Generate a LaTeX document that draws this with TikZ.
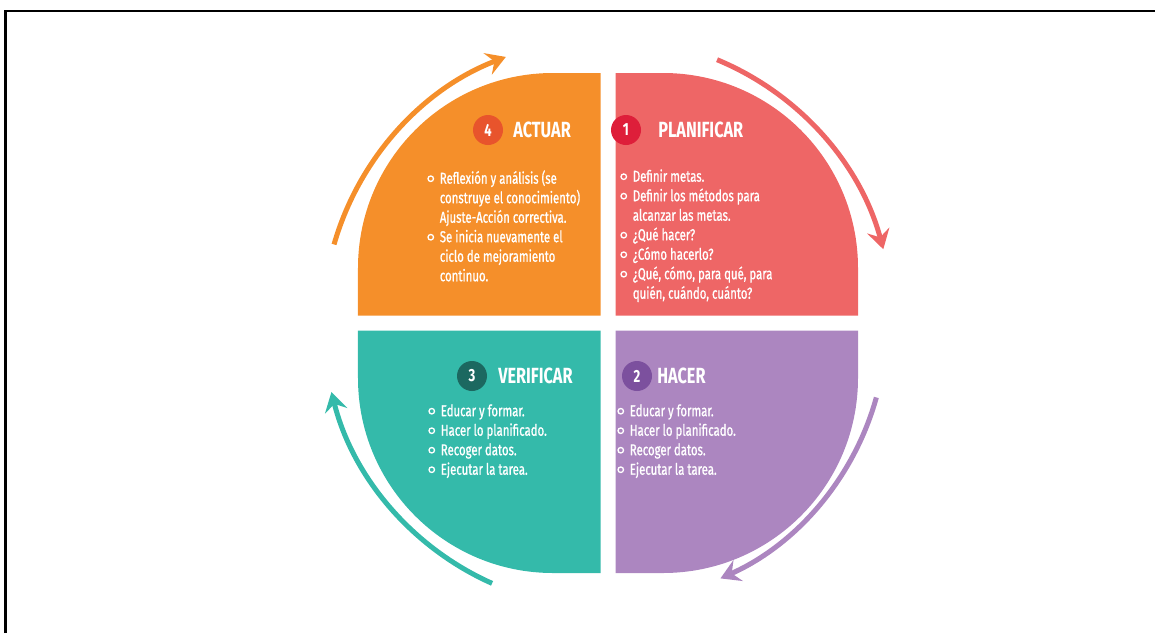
\documentclass[tikz,border=0pt]{standalone}
\usepackage{fontspec}
\setmainfont{Fira Sans}[FakeStretch=0.74]
\newfontfamily\bodyfont{Fira Sans}[FakeStretch=0.72, FakeBold=0.9]
\usetikzlibrary{arrows.meta}

% colours of the four steps
\definecolor{actuarcol}{RGB}{245,143,42}
\definecolor{planifcol}{RGB}{238,102,102}
\definecolor{hacercol}{RGB}{172,134,192}
\definecolor{verifcol}{RGB}{52,186,170}
\definecolor{actuardark}{RGB}{232,84,44}
\definecolor{planifdark}{RGB}{222,30,58}
\definecolor{hacerdark}{RGB}{124,80,158}
\definecolor{verifdark}{RGB}{28,104,96}

\newcommand{\bul}{\makebox[1.5ex][l]{\tikz[baseline=-0.6ex]\draw[white, line width=0.75pt] (0,0) circle (0.055cm);}}
\newcommand{\ind}{\makebox[1.5ex]{}}

\tikzset{
  badge/.style={circle, minimum size=0.6cm, inner sep=0pt, text=white, font=\bfseries\fontsize{10}{10}\selectfont},
  steptitle/.style={anchor=west, inner sep=0pt, text=white, font=\bfseries\fontsize{12.5}{14}\selectfont},
  steptext/.style={anchor=north west, inner sep=0pt, text=white, align=left, font=\bodyfont\fontsize{9}{11.1}\selectfont},
  cyclearrow/.style={line width=0.1cm, -{Stealth[length=11pt, width=13pt, inset=4pt]}}
}

\begin{document}
\begin{tikzpicture}
\useasboundingbox (-12.16,-6.2) rectangle (10.94,6.46);

% frame
\draw[line width=1.7pt] (-12.04,-6.2) -- (-12.04,6.24) -- (10.94,6.24);

% the four quarters
\fill[actuarcol] (-0.15,0.15) -- (-5,0.15) -- (-5,1.1) arc[start angle=180, end angle=90, radius=3.9] -- (-0.15,5) -- cycle;
\fill[planifcol] (0.15,0.15) -- (0.15,5) -- (1.1,5) arc[start angle=90, end angle=0, radius=3.9] -- (5,0.15) -- cycle;
\fill[hacercol] (0.15,-0.15) -- (5,-0.15) -- (5,-1.1) arc[start angle=0, end angle=-90, radius=3.9] -- (0.15,-5) -- cycle;
\fill[verifcol] (-0.15,-0.15) -- (-0.15,-5) -- (-1.1,-5) arc[start angle=270, end angle=180, radius=3.9] -- (-5,-0.15) -- cycle;

% arrows round the cycle
\draw[cyclearrow, actuarcol] (164:5.7) arc[start angle=164, end angle=111, radius=5.7];
\draw[cyclearrow, planifcol] (67.5:5.7) arc[start angle=67.5, end angle=15, radius=5.7];
\draw[cyclearrow, hacercol] (-15.5:5.57) arc[start angle=-15.5, end angle=-66, radius=5.6];
\draw[cyclearrow, verifcol] (246:5.7) arc[start angle=246, end angle=194, radius=5.7];

% 4 Actuar
\node[badge, fill=actuardark] (b4) at (-2.4,3.86) {4};
\node[steptitle] (actuar) at (-1.9,3.86) {ACTUAR};
\node[steptext] (actuartext) at (-3.62,3.06) {\bul Reflexión y análisis (se\\\ind construye el conocimiento)\\\ind Ajuste-Acción correctiva.\\\bul Se inicia nuevamente el\\\ind ciclo de mejoramiento\\\ind continuo.};

% 1 Planificar
\node[badge, fill=planifdark] (b1) at (0.36,3.86) {1};
\node[steptitle] (planificar) at (1.0,3.86) {PLANIFICAR};
\node[steptext] (planiftext) at (0.24,3.08) {\bul Definir metas.\\\bul Definir los métodos para\\\ind alcanzar las metas.\\\bul ¿Qué hacer?\\\bul ¿Cómo hacerlo?\\\bul ¿Qué, cómo, para qué, para\\\ind quién, cuándo, cuánto?};

% 3 Verificar
\node[badge, fill=verifdark] (b3) at (-2.72,-1.06) {3};
\node[steptitle] (verificar) at (-2.2,-1.06) {VERIFICAR};
\node[steptext] (veriftext) at (-3.6,-1.62) {\bul Educar y formar.\\\bul Hacer lo planificado.\\\bul Recoger datos.\\\bul Ejecutar la tarea.};

% 2 Hacer
\node[badge, fill=hacerdark] (b2) at (0.58,-1.06) {2};
\node[steptitle] (hacer) at (0.98,-1.06) {HACER};
\node[steptext] (hacertext) at (0.18,-1.62) {\bul Educar y formar.\\\bul Hacer lo planificado.\\\bul Recoger datos.\\\bul Ejecutar la tarea.};
\end{tikzpicture}
\end{document}
